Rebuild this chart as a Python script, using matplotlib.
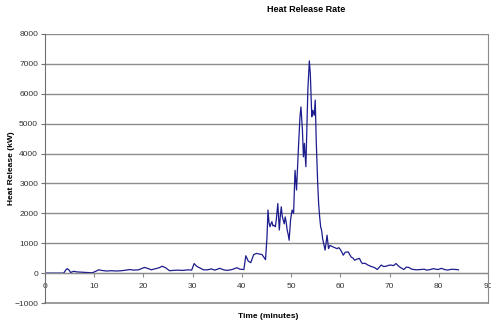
import numpy as np
import matplotlib
matplotlib.use("Agg")
import matplotlib.pyplot as plt

plt.rcParams['font.family'] = ['Liberation Sans', 'DejaVu Sans']

# heat release rate readings (minutes, kW)
time_min = [0, 3.8, 4.2, 4.5, 4.9, 5.2, 5.8, 6.5, 7.5, 8.5, 9.6, 10.3, 10.9, 11.5,
            12.5, 13.5, 14.5, 15.5, 16.5, 17.2, 18.0, 19.0, 20.2, 21.0, 21.6, 22.5,
            23.2, 23.8, 24.5, 25.3, 26.0, 27.0, 28.0, 29.0, 29.8, 30.3, 30.8, 31.5,
            32.2, 33.0, 33.8, 34.5, 35.5, 36.3, 37.0, 38.0, 39.0, 39.6, 40.4, 40.8,
            41.3, 41.8, 42.4, 43.0, 43.5, 44.1, 44.8, 45.1, 45.3, 45.5, 45.7, 45.9,
            46.1, 46.3, 46.5, 46.8, 47.0, 47.3, 47.6, 47.8, 48.0, 48.2, 48.4, 48.6,
            48.8, 49.0, 49.2, 49.4, 49.6, 49.9, 50.2, 50.5, 50.8,
            51.1, 51.5, 51.8, 52.0, 52.3, 52.5, 52.7, 53.0, 53.4, 53.7, 53.9, 54.2,
            54.4, 54.7, 54.9, 55.1, 55.4, 55.6, 55.8, 56.0, 56.2, 56.4, 56.6, 56.9,
            57.1, 57.3, 57.6, 57.9, 58.2, 58.5, 58.9, 59.3, 59.7, 60.0, 60.3, 60.6,
            61.0, 61.6, 61.9, 62.2, 62.6, 62.9, 63.4, 63.9, 64.2, 64.5, 65.0, 65.6,
            66.0, 66.5, 67.0, 67.5, 68.3, 68.8, 69.3, 69.8, 70.3, 70.8, 71.3, 72.0,
            72.9, 73.4, 73.9, 74.4, 74.9, 75.6, 76.3, 77.0, 77.6, 78.3, 78.9, 79.4,
            79.9, 80.5, 81.2, 81.8, 82.6, 83.6, 84.0]
hrr_kw = [0, 0, 100, 150, 100, 20, 60, 40, 30, 20, 10, 60, 110, 90,
          70, 80, 70, 80, 100, 120, 100, 110, 190, 150, 110, 150,
          180, 230, 180, 80, 90, 100, 90, 110, 100, 320, 230, 170,
          110, 110, 140, 100, 160, 110, 90, 120, 180, 130, 120, 580,
          400, 350, 620, 660, 640, 620, 450, 1200, 2110, 1700, 1550, 1650,
          1720, 1580, 1600, 1550, 1800, 2330, 1440, 1900, 2220, 1900, 1770, 1650,
          1880, 1700, 1440, 1300, 1100, 1800, 2110, 2000, 3440,
          2780, 4230, 5230, 5560, 4780, 3890, 4340, 3560, 6120, 7100, 6680, 5230,
          5450, 5280, 5790, 4450, 3000, 2300, 1880, 1550, 1430, 1150, 1000, 770,
          1000, 1270, 820, 930, 900, 880, 850, 820, 850, 790, 700, 600,
          700, 710, 620, 540, 500, 430, 470, 490, 380, 320, 330, 270,
          240, 210, 180, 120, 270, 220, 230, 260, 270, 250, 320, 210,
          120, 200, 190, 140, 120, 110, 120, 130, 100, 120, 150, 130,
          120, 160, 120, 100, 130, 120, 110]

x_ticks = np.arange(0, 100, 10)
y_ticks = np.arange(-1000, 9000, 1000)

fig = plt.figure(figsize=(4.91, 3.23), dpi=100)
ax = fig.add_axes([45 / 491, 20 / 323, 443 / 491, 269 / 323])

ax.plot(time_min, hrr_kw, color='#1c1c8e', lw=0.9)

ax.set_xlim(0, 90)
ax.set_ylim(-1000, 8000)
ax.set_xticks(x_ticks)
ax.set_yticks(y_ticks)
ax.grid(axis='y', color='#8c8c8c', lw=1.0)
ax.set_axisbelow(True)

# x axis drawn through zero, excel style
ax.spines['bottom'].set_position(('data', 0))
ax.spines['bottom'].set_color('#8c8c8c')
ax.spines['top'].set_visible(False)
ax.spines['left'].set_color('#707070')
ax.spines['right'].set_color('#8c8c8c')
ax.axhline(-1000, color='#8c8c8c', lw=1.2, clip_on=False)

ax.tick_params(axis='both', labelsize=6, colors='#333333', length=3, width=0.8,
               direction='out', pad=2)
ax.tick_params(axis='x', colors='#8c8c8c', labelcolor='#333333', pad=4)
ax.tick_params(axis='y', colors='#707070', labelcolor='#333333')

fig.text(306 / 491, 1 - 9 / 323, 'Heat Release Rate', ha='center', va='center',
         fontsize=6.5, fontweight='bold')
fig.text(12 / 491, 1 - 168 / 323, 'Heat Release (kW)', ha='center', va='center',
         rotation=90, fontsize=6, fontweight='bold')
fig.text(268 / 491, 1 - 316 / 323, 'Time (minutes)', ha='center', va='center',
         fontsize=6, fontweight='bold')

fig.savefig('out.png', dpi=100)
